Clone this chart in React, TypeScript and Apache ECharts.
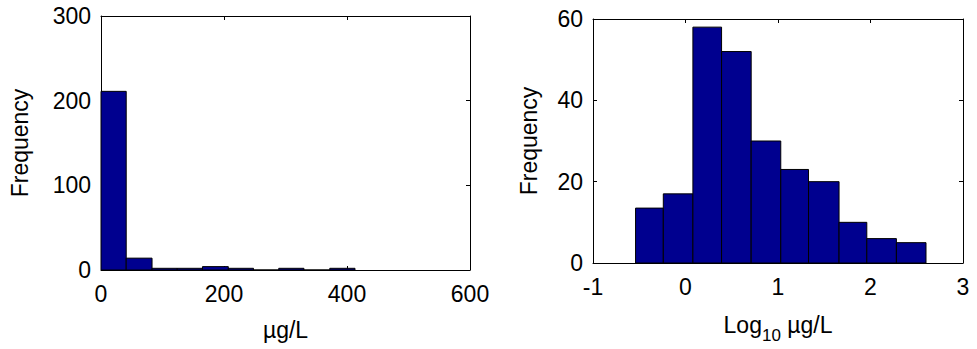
import React, { useEffect, useRef } from "react";
import * as echarts from "echarts";

// Left histogram: raw concentration (µg/L)
const leftEdges = [0, 41, 83, 124, 165, 207, 248, 289, 330, 372, 413];
const leftCounts = [211, 14, 2, 2, 4, 2, 0, 2, 0, 2];
const leftXTicks = [0, 200, 400, 600];
const leftYTicks = [0, 100, 200, 300];

// Right histogram: log10 concentration
const rightEdges = [-0.54, -0.24, 0.08, 0.39, 0.71, 1.03, 1.33, 1.66, 1.96, 2.28, 2.6];
const rightCounts = [13.5, 17, 58, 52, 30, 23, 20, 10, 6, 5];
const rightXTicks = [-1, 0, 1, 2, 3];
const rightYTicks = [0, 20, 40, 60];

const FONT = "'Liberation Sans', Arial, sans-serif";
const FS = 23;
const BAR = "#00008f";

function bins(edges: number[], counts: number[]) {
  return counts.map((c, i) => [edges[i], edges[i + 1], c]);
}

const renderBar = (params: any, api: any) => {
  const x0 = api.value(0);
  const x1 = api.value(1);
  const y = api.value(2);
  const p0 = api.coord([x0, y]);
  const p1 = api.coord([x1, 0]);
  return {
    type: "rect",
    shape: { x: p0[0], y: p0[1], width: p1[0] - p0[0], height: p1[1] - p0[1] },
    style: { fill: BAR, stroke: "#000", lineWidth: 1 },
  };
};

export default function App() {
  const ref = useRef<HTMLDivElement>(null);
  useEffect(() => {
    document.body.style.margin = "0";
    const chart = echarts.init(ref.current!, null, { renderer: "svg" });
    const axisLine = { show: true, lineStyle: { color: "#000", width: 1 } };
    const tick = { show: true, inside: true, length: 4, lineStyle: { color: "#000" } };
    const label = { color: "#000", fontSize: FS, fontFamily: FONT };
    const mkX = (gi: number, ticks: number[], name: string, gap: number, rich?: any) => [
      {
        type: "value",
        gridIndex: gi,
        min: ticks[0],
        max: ticks[ticks.length - 1],
        interval: ticks[1] - ticks[0],
        axisLine: { ...axisLine, onZero: false },
        axisTick: tick,
        axisLabel: { ...label, margin: 12 },
        splitLine: { show: false },
        name,
        nameLocation: "middle",
        nameGap: gap,
        nameTextStyle: { color: "#000", fontSize: FS, fontFamily: FONT, rich },
      },
      {
        type: "value",
        gridIndex: gi,
        position: "top",
        min: ticks[0],
        max: ticks[ticks.length - 1],
        interval: ticks[1] - ticks[0],
        axisLine: { ...axisLine, onZero: false },
        axisTick: tick,
        axisLabel: { show: false },
        splitLine: { show: false },
      },
    ];
    const mkY = (gi: number, ticks: number[], gap: number) => [
      {
        type: "value",
        gridIndex: gi,
        min: ticks[0],
        max: ticks[ticks.length - 1],
        interval: ticks[1] - ticks[0],
        axisLine: { ...axisLine, onZero: false },
        axisTick: tick,
        axisLabel: { ...label, margin: 10 },
        splitLine: { show: false },
        name: "Frequency",
        nameLocation: "middle",
        nameGap: gap,
        nameTextStyle: { color: "#000", fontSize: FS, fontFamily: FONT },
      },
      {
        type: "value",
        gridIndex: gi,
        position: "right",
        min: ticks[0],
        max: ticks[ticks.length - 1],
        interval: ticks[1] - ticks[0],
        axisLine: { ...axisLine, onZero: false },
        axisTick: tick,
        axisLabel: { show: false },
        splitLine: { show: false },
      },
    ];
    const subRich = {
      m: { fontSize: FS, fontFamily: FONT, color: "#000", verticalAlign: "bottom", padding: [0, 0, 8, 0] },
      sub: { fontSize: 17, fontFamily: FONT, color: "#000", verticalAlign: "bottom" },
    };
    chart.setOption({
      animation: false,
      backgroundColor: "#fff",
      grid: [
        { left: 101, top: 16, width: 369, height: 254 },
        { left: 593, top: 19, width: 370, height: 250.5 },
      ],
      xAxis: [
        ...mkX(0, leftXTicks, "µg/L", 48),
        ...mkX(1, rightXTicks, "{m|Log}{sub|10}{m| µg/L}", 50, subRich),
      ],
      yAxis: [...mkY(0, leftYTicks, 70), ...mkY(1, rightYTicks, 53)],
      series: [
        {
          type: "custom",
          xAxisIndex: 0,
          yAxisIndex: 0,
          renderItem: renderBar,
          encode: { x: [0, 1], y: 2 },
          data: bins(leftEdges, leftCounts),
        },
        {
          type: "custom",
          xAxisIndex: 2,
          yAxisIndex: 2,
          renderItem: renderBar,
          encode: { x: [0, 1], y: 2 },
          data: bins(rightEdges, rightCounts),
        },
      ],
    });
    return () => chart.dispose();
  }, []);
  return <div ref={ref} style={{ width: 977, height: 349 }} />;
}
